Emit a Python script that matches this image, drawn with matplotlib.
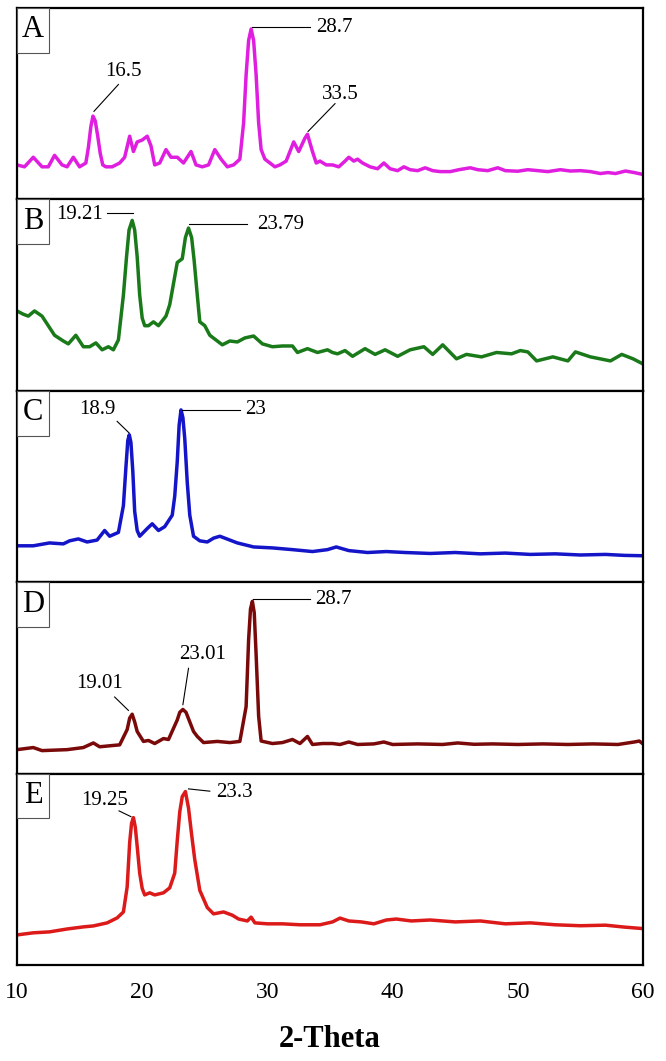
import matplotlib
matplotlib.use("Agg")
import matplotlib.pyplot as plt
from matplotlib.patches import Rectangle

plt.rcParams['font.family'] = ['Liberation Serif', 'DejaVu Serif']

# 2-theta / intensity (arbitrary units, 0-100 per panel)
a_x = [10.0, 10.6, 11.3, 12.0, 12.5, 13.0, 13.6, 14.0, 14.5, 15.0, 15.5, 15.7, 15.9, 16.07, 16.25,
       16.45, 16.65, 16.85, 17.1, 17.6, 18.2, 18.6, 19.0, 19.3, 19.6, 20.0, 20.4, 20.7, 21.0, 21.4,
       21.9, 22.3, 22.8, 23.3, 23.9, 24.3, 24.8, 25.3, 25.8, 26.3, 26.8, 27.3, 27.8, 28.1, 28.3,
       28.5, 28.7, 28.9, 29.1, 29.3, 29.5, 29.8, 30.2, 30.6, 31.0, 31.5, 32.1, 32.5, 33.0, 33.2,
       33.6, 33.9, 34.2, 34.7, 35.2, 35.7, 36.2, 36.5, 36.9, 37.2, 37.6, 38.2, 38.8, 39.3, 39.8,
       40.4, 40.9, 41.4, 42.0, 42.6, 43.2, 43.8, 44.6, 45.3, 46.2, 46.8, 47.6, 48.4, 49.0, 50.0,
       50.8, 51.6, 52.4, 53.4, 54.2, 55.0, 55.8, 56.6, 57.2, 57.8, 58.6, 59.3, 60.0]
a_y = [18, 17, 22, 17, 17, 23, 18, 17, 22, 17, 19, 27, 38, 43.5, 41,
       33, 24, 18, 17, 17, 19, 22, 33, 25, 30, 31, 33, 28, 18, 19,
       26, 22, 22, 19, 25, 18, 17, 18, 26, 21, 17, 18, 21, 40, 65,
       83, 89, 83, 65, 40, 26, 21, 19, 17, 18, 20, 30, 25, 32, 34,
       25, 19, 20, 18, 18, 17, 20, 22, 20, 21, 19, 17, 16, 19, 16,
       15, 17, 15.5, 15, 16.5, 15, 14.5, 14.5, 15.5, 16.5, 15.5, 15, 16.5, 15, 14.7,
       15.5, 15, 14.5, 15.5, 14.8, 15, 14.5, 13.5, 14, 13.5, 14.8, 14, 13]

b_x = [10.0, 10.5, 10.9, 11.4, 12.0, 12.5, 13.0, 13.7, 14.1, 14.7, 15.3, 15.8, 16.3, 16.8, 17.3,
       17.7, 18.1, 18.5, 18.75, 18.95, 19.2, 19.4, 19.6, 19.8, 20.0, 20.2, 20.5, 20.9, 21.3, 21.9,
       22.2, 22.8, 23.2, 23.45, 23.7, 23.95, 24.15, 24.4, 24.6, 25.0, 25.4, 26.4, 27.0, 27.6, 28.2,
       28.9, 29.6, 30.4, 31.2, 32.0, 32.4, 33.2, 34.0, 34.8, 35.2, 35.6, 36.2, 36.8, 37.8, 38.6,
       39.4, 40.4, 41.4, 42.5, 43.2, 44.0, 45.1, 45.9, 47.1, 48.3, 49.5, 50.2, 50.8, 51.5, 52.8,
       54.0, 54.6, 55.8, 57.4, 58.3, 59.2, 60.0]
b_y = [41.7, 40, 39, 41.7, 39, 34, 29, 26, 24.5, 29, 23, 23, 25, 21.4, 23,
       21.4, 26.6, 50, 70, 84, 89, 84, 70, 50, 38, 34, 34, 36, 34, 39,
       45, 67, 69, 80, 85, 80, 68, 50, 36, 34, 29, 24, 26, 25.5, 27.6,
       28.6, 24.5, 23, 23.4, 23.4, 20, 22, 20, 21.4, 20, 19.3, 21, 18, 22, 19,
       21.4, 18, 21.4, 23, 19, 24, 16.7, 19, 17.7, 20, 19.3, 21, 20.3, 15.6, 17.7,
       15.6, 20.3, 17.7, 15.6, 19, 16.7, 14]

c_x = [10.0, 11.3, 12.6, 13.7, 14.2, 14.9, 15.6, 16.4, 17.0, 17.4, 18.1, 18.5, 18.7, 18.85, 18.97,
       19.1, 19.25, 19.4, 19.6, 19.8, 20.4, 20.8, 21.3, 21.8, 22.4, 22.6, 22.8, 22.95, 23.1, 23.25,
       23.4, 23.6, 23.8, 24.1, 24.6, 25.2, 25.7, 26.2, 27.0, 27.6, 28.9, 30.4, 32.0, 33.6, 34.8,
       35.5, 36.5, 38.0, 39.5, 41.0, 43.0, 45.0, 47.0, 49.0, 51.0, 53.0, 55.0, 57.0, 58.5, 60.0]
c_y = [19, 19, 20.5, 20, 21.6, 22.6, 21, 22, 27, 24, 26, 40, 60, 74, 77,
       73, 58, 37, 27, 24, 28, 30.5, 27, 29, 35, 45, 63, 82, 90, 86,
       75, 52, 35, 24, 21.6, 21, 23, 24, 22, 20.5, 18.4, 17.9, 17, 16, 17,
       18.4, 16.5, 15.5, 16, 15.5, 15, 15.5, 14.8, 15.2, 14.5, 14.8, 14.2, 14.5, 14, 13.8]

d_x = [10.0, 11.3, 12.0, 14.0, 15.3, 16.1, 16.6, 17.7, 18.2, 18.8, 19.0, 19.2, 19.4, 19.6, 20.1,
       20.5, 21.0, 21.7, 22.1, 22.8, 23.0, 23.25, 23.5, 23.8, 24.1, 24.4, 24.9, 26.0, 27.0, 27.8,
       28.3, 28.5, 28.65, 28.8, 28.95, 29.1, 29.3, 29.5, 30.4, 31.2, 32.0, 32.6, 33.2, 33.6, 34.4,
       35.2, 35.8, 36.5, 37.2, 38.5, 39.3, 40.0, 42.0, 44.0, 45.2, 46.5, 48.0, 50.0, 52.0, 54.0,
       56.0, 58.0, 59.3, 59.7, 60.0]
d_y = [12.5, 13.6, 12, 12.5, 13.6, 16, 14, 14.7, 15, 23, 29, 31, 27, 22, 16.8,
       17.3, 15.7, 18.3, 17.8, 28, 32, 33.5, 32, 27, 22, 19.4, 16.2, 16.8, 16.2, 16.8,
       35, 70, 86, 90, 84, 62, 30, 17, 15.7, 16.2, 17.8, 15.7, 19.4, 15.2, 15.7,
       15.7, 15.2, 16.5, 15.2, 15.5, 16.5, 15.2, 15.5, 15.2, 16, 15.3, 15.5, 15.2, 15.5, 15.2,
       15.5, 15.2, 16.5, 17, 15.5]

e_x = [10.0, 11.3, 12.6, 14.0, 15.3, 16.1, 17.2, 18.0, 18.5, 18.8, 19.0, 19.15, 19.3, 19.45, 19.6,
       19.8, 20.0, 20.2, 20.6, 21.0, 21.7, 22.2, 22.6, 22.8, 23.0, 23.2, 23.45, 23.7, 23.95, 24.2,
       24.6, 25.2, 25.7, 26.5, 27.2, 27.7, 28.4, 28.7, 29.0, 30.0, 31.2, 32.6, 34.2, 35.2, 35.8,
       36.5, 37.5, 38.5, 39.5, 40.3, 41.5, 43.0, 45.0, 47.0, 49.0, 51.0, 53.0, 55.0, 57.0, 58.5,
       60.0]
e_y = [15.7, 16.8, 17.3, 18.8, 19.9, 20.4, 22, 24.6, 27.7, 40.8, 64, 74, 77, 72, 62,
       48, 40, 36.6, 37.7, 36.6, 37.7, 40.3, 48, 65, 80, 88, 90.6, 82, 68, 55,
       39, 30, 26.7, 27.7, 26, 24, 23, 25, 22, 21.5, 21.5, 21, 21, 22.5, 24.5,
       23, 22.5, 21.5, 23.5, 24, 23, 23.5, 22.5, 23, 21.5, 22, 21, 20.5, 20.8, 19.8,
       19]

panel_labels = ["A", "B", "C", "D", "E"]
series_x = [a_x, b_x, c_x, d_x, e_x]
series_y = [a_y, b_y, c_y, d_y, e_y]
colors = ["#E01EE0", "#1A7A1A", "#1414C8", "#7A0A0A", "#DC1A1A"]
xticks = [10, 20, 30, 40, 50, 60]

# peak labels: text, text pos, leader start, leader end, horizontal alignment
notes = [
    [("16.5", 18.5, 67, (18.1, 60), (16.15, 46), "center"),
     ("28.7", 33.9, 90, (28.75, 90), (33.4, 90), "left"),
     ("33.5", 35.8, 55, (35.4, 50), (33.25, 35.5), "center")],
    [("19.21", 16.85, 92, (17.2, 93), (19.25, 93), "right"),
     ("23.79", 29.2, 87, (23.75, 87), (28.4, 87), "left")],
    [("18.9", 16.4, 90, (18.0, 84), (18.95, 78), "center"),
     ("23", 28.2, 90, (23.15, 90), (27.8, 90), "left")],
    [("19.01", 16.6, 47, (17.8, 40), (18.9, 33), "center"),
     ("23.01", 24.8, 62, (23.7, 55), (23.25, 36), "center"),
     ("28.7", 33.8, 91, (28.85, 91), (33.4, 91), "left")],
    [("19.25", 17.0, 86, (18.15, 80.5), (19.1, 77.5), "center"),
     ("23.3", 25.9, 90, (23.7, 92), (25.4, 90.8), "left")],
]

fig, axes = plt.subplots(5, 1, figsize=(6.66, 10.61), dpi=100, sharex=True)
fig.subplots_adjust(left=0.0255, right=0.9655, top=0.9925, bottom=0.0905, hspace=0)

for i, ax in enumerate(axes):
    ax.plot(series_x[i], series_y[i], color=colors[i], lw=2.5,
            solid_joinstyle='round', solid_capstyle='round')
    ax.set_xlim(10, 60)
    ax.set_ylim(0, 100)
    ax.set_yticks([])
    for s in ax.spines.values():
        s.set_linewidth(1.6)
    ax.tick_params(axis='x', length=0, labelsize=17, pad=12)
    ax.add_patch(Rectangle((0, 0.766), 0.051, 0.234, transform=ax.transAxes,
                           facecolor='white', edgecolor='#555555', lw=0.8, zorder=3))
    ax.text(0.0255, 0.885, panel_labels[i], transform=ax.transAxes, fontsize=22,
            ha='center', va='center', zorder=4)
    for txt, tx, ty, p0, p1, ha in notes[i]:
        ax.plot([p0[0], p1[0]], [p0[1], p1[1]], color='black', lw=0.8)
        ax.text(tx, ty, txt, fontsize=15, ha=ha, va='center')

axes[-1].set_xticks(xticks)
axes[-1].set_xlabel('2-Theta', fontsize=22, fontweight='bold', labelpad=16)

fig.savefig('out.png', dpi=100)
